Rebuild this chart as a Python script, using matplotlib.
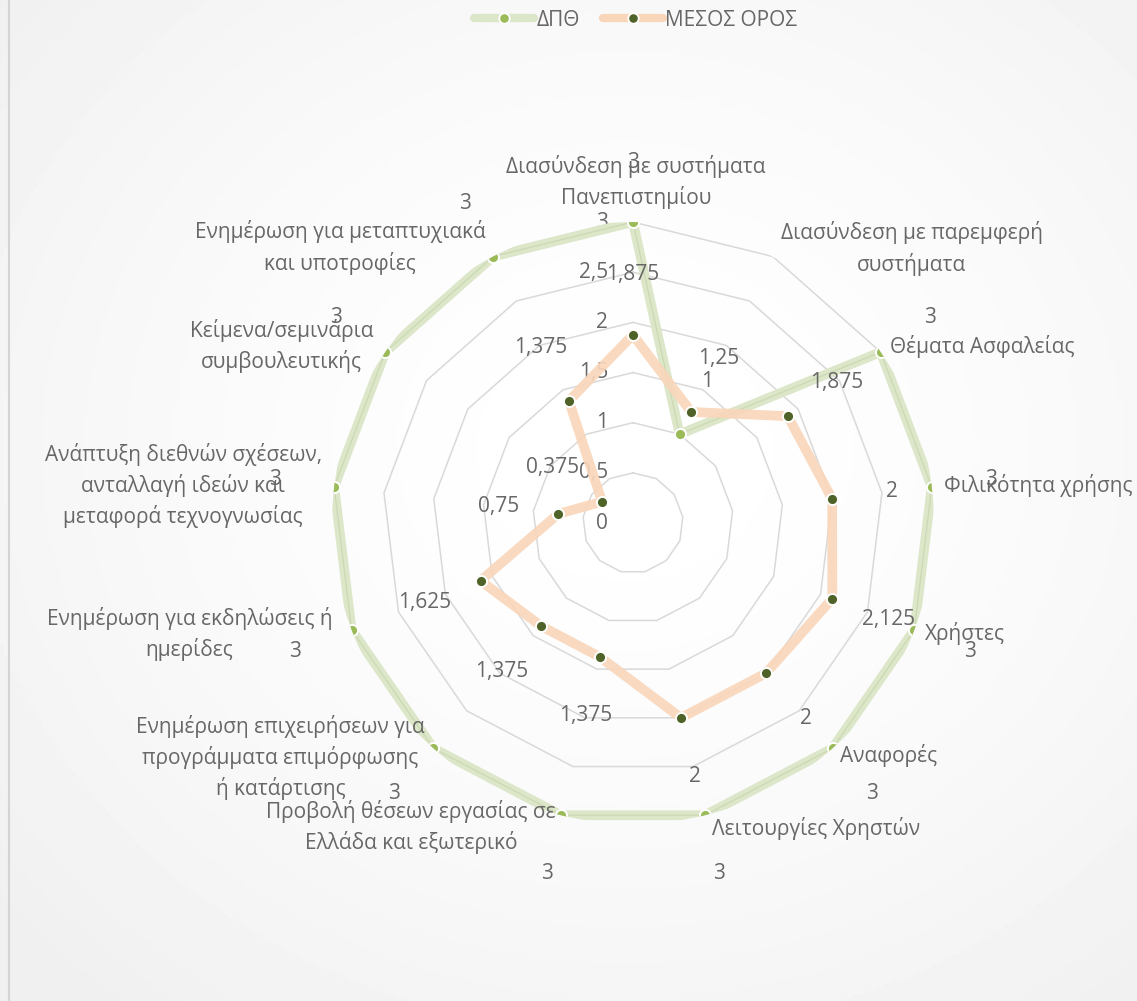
import numpy as np
import matplotlib
matplotlib.use("Agg")
import matplotlib.pyplot as plt
from matplotlib.lines import Line2D

plt.rcParams['font.family'] = ['Open Sans', 'DejaVu Sans']

# Δεδομένα
categories = [
    "Διασύνδεση με συστήματα\nΠανεπιστημίου",
    "Διασύνδεση με παρεμφερή\nσυστήματα",
    "Θέματα Ασφαλείας",
    "Φιλικότητα χρήσης",
    "Χρήστες",
    "Αναφορές",
    "Λειτουργίες Χρηστών",
    "Προβολή θέσεων εργασίας σε\nΕλλάδα και εξωτερικό",
    "Ενημέρωση επιχειρήσεων για\nπρογράμματα επιμόρφωσης\nή κατάρτισης",
    "Ενημέρωση για εκδηλώσεις ή\nημερίδες",
    "Ανάπτυξη διεθνών σχέσεων,\nανταλλαγή ιδεών και\nμεταφορά τεχνογνωσίας",
    "Κείμενα/σεμινάρια\nσυμβουλευτικής",
    "Ενημέρωση για μεταπτυχιακά\nκαι υποτροφίες",
]
dpth = [3, 1, 3, 3, 3, 3, 3, 3, 3, 3, 3, 3, 3]
mesos = [1.875, 1.25, 1.875, 2, 2.125, 2, 2, 1.375, 1.375, 1.625, 0.75, 0.375, 1.375]
r_ticks = [0, 0.5, 1, 1.5, 2, 2.5, 3]

# Θέσεις ετικετών κατηγοριών (px από το σημείο r=3, y προς τα κάτω)
cat_offsets = [(3, -40), (139, -8), (9, -6), (12, -1), (11, 4), (7, 7), (7, 13),
               (-150, 12), (-153, 9), (-162, 4), (-151, -1), (-104, -6), (-153, -9)]
cat_ha = ['center', 'center', 'left', 'left', 'left', 'left', 'left',
          'center', 'center', 'center', 'center', 'center', 'center']

text_col = '#676767'
green_line = '#dce6c8'
green_inner = '#bfcea3'
green_mark = '#9bbb59'
orange_line = '#f9d6ba'
olive_mark = '#4f6228'
FS = 15
PX = 0.72  # px -> points

fig = plt.figure(figsize=(11.37, 10.01), dpi=100)

# Φόντο με ελαφριά διαβάθμιση
bg = fig.add_axes([0, 0, 1, 1])
yy, xx = np.mgrid[0:1:300j, 0:1:300j]
d = np.sqrt(((xx - 0.55) / 0.6) ** 2 + ((yy - 0.45) / 0.6) ** 2)
bg.imshow(1 - 0.045 * np.clip(d, 0, 1.2) ** 1.6, cmap='gray', vmin=0, vmax=1,
          extent=[0, 1, 0, 1], aspect='auto')
bg.axis('off')
fig.add_artist(Line2D([8.5 / 1137] * 2, [0, 1], color='#d4d4d4', lw=1.5,
                      transform=fig.transFigure))

n = len(categories)
theta = np.arange(n) * 2 * np.pi / n
theta_c = np.append(theta, theta[0])

ax = fig.add_axes([0.2920, 0.1768, 0.5294, 0.6014], projection='polar')
ax.set_facecolor('none')
ax.set_theta_zero_location('N')
ax.set_theta_direction(-1)
ax.set_ylim(0, 3)
ax.grid(False)
ax.spines['polar'].set_visible(False)
ax.set_xticks([])
ax.set_yticks([])

# Πλέγμα (πολύγωνα)
for r in r_ticks[1:]:
    ax.plot(theta_c, [r] * (n + 1), color='#d9d9d9', lw=1.1, zorder=1)

# Άξονας τιμών
for r in r_ticks:
    ax.annotate(f"{r:g}".replace('.', ','), xy=(0, r), xytext=(-25 * PX, 0),
                textcoords='offset points', ha='right', va='center',
                fontsize=FS, color=text_col, zorder=2)

# Σειρές
d_c = np.append(dpth, dpth[0])
m_c = np.append(mesos, mesos[0])
ax.plot(theta_c, d_c, color=green_line, lw=7, solid_joinstyle='round',
        solid_capstyle='round', zorder=3)
ax.plot(theta_c, d_c, color=green_inner, lw=0.8, alpha=0.6, zorder=3)
ax.plot(theta, dpth, ls='none', marker='o', ms=8, mfc=green_mark, mec='white',
        mew=1.4, zorder=5)
ax.plot(theta_c, m_c, color=orange_line, lw=7, solid_joinstyle='round',
        solid_capstyle='round', alpha=0.92, zorder=4)
ax.plot(theta, mesos, ls='none', marker='o', ms=8, mfc=olive_mark, mec='white',
        mew=1.4, zorder=5)

# Ετικέτες δεδομένων (60 px ακτινικά προς τα έξω)
for t, a, b in zip(theta, dpth, mesos):
    off = (60 * PX * np.sin(t), 60 * PX * np.cos(t))
    for v in (a, b):
        ax.annotate(f"{v:g}".replace('.', ','), xy=(t, v), xytext=off,
                    textcoords='offset points', ha='center', va='center',
                    fontsize=FS, color=text_col, zorder=6)

# Ετικέτες κατηγοριών
for t, lab, (ox, oy), ha in zip(theta, categories, cat_offsets, cat_ha):
    ax.annotate(lab, xy=(t, 3), xytext=(ox * PX, -oy * PX),
                textcoords='offset points', ha=ha, va='center',
                multialignment='center', linespacing=1.45,
                fontsize=FS, color=text_col, zorder=6)

# Υπόμνημα
h1 = Line2D([], [], color=green_line, lw=6, solid_capstyle='round', marker='o',
            ms=7.5, mfc=green_mark, mec='white', mew=1.3)
h2 = Line2D([], [], color=orange_line, lw=6, solid_capstyle='round', marker='o',
            ms=7.5, mfc=olive_mark, mec='white', mew=1.3)
leg = fig.legend([h1, h2], ["ΔΠΘ", "ΜΕΣΟΣ ΟΡΟΣ"], loc='center',
                 bbox_to_anchor=(0.559, 0.98), ncol=2, frameon=False,
                 fontsize=FS, handlelength=2.9, handletextpad=0.1,
                 columnspacing=1.1, labelcolor=text_col)

fig.savefig("out.png", dpi=100)
